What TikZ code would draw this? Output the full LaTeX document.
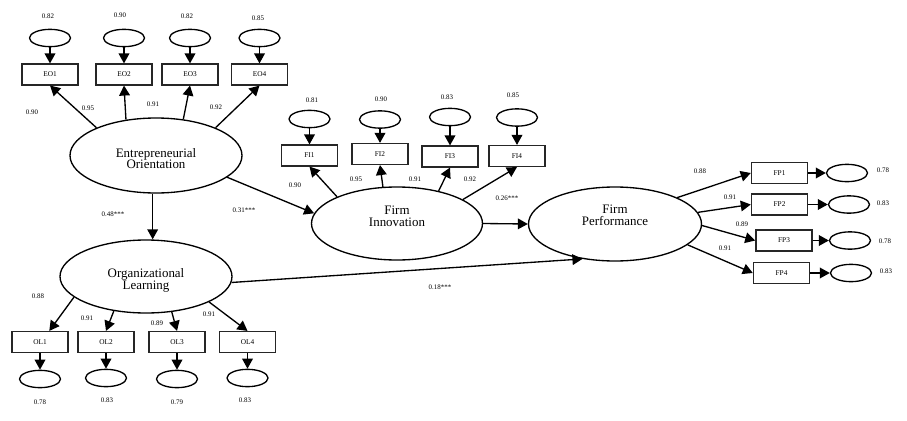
\documentclass[tikz,border=0pt]{standalone}
\usepackage{fontspec}
\setmainfont{Liberation Serif}
\usetikzlibrary{arrows.meta,shapes.geometric}
\begin{document}
\begin{tikzpicture}[x=0.75pt,y=-0.75pt,
  line width=1pt,
  arr/.style={-{Triangle[length=7.5pt,width=8pt]}},
  latent/.style={ellipse,draw,inner sep=0pt},
  obs/.style={rectangle,draw=black!85,line width=1.1pt,minimum width=42pt,minimum height=15.5pt,inner sep=0pt,font=\fontsize{5.5}{6}\selectfont},
  err/.style={ellipse,draw,minimum width=30.75pt,minimum height=13pt,inner sep=0pt},
  num/.style={inner sep=0pt,font=\fontsize{5.2}{6}\selectfont},
  ltxt/.style={inner sep=0pt,align=center,font=\fontsize{9.7}{8.8}\selectfont}]
\useasboundingbox (0,0) rectangle (907,421);
% latent variables
\node[latent,minimum width=129pt,minimum height=56.25pt] (EO) at (156,155.5) {};
\node[ltxt] (EOt) at (156,158.5) {Entrepreneurial\\Orientation};
\node[latent,minimum width=128.25pt,minimum height=54.75pt] (FI) at (397,223.5) {};
\node[ltxt] (FIt) at (397,216) {Firm\\Innovation};
\node[latent,minimum width=129.75pt,minimum height=55.5pt] (FP) at (615,224) {};
\node[ltxt] (FPt) at (615,215.5) {Firm\\Performance};
\node[latent,minimum width=129pt,minimum height=54.75pt] (OL) at (146,276.5) {};
\node[ltxt] (OLt) at (146,280.5) {Organizational\\Learning};
% EO indicators
\node[obs] (EO1) at (50,74.5) {EO1};
\node[obs] (EO2) at (124,74.5) {EO2};
\node[obs] (EO3) at (190,74.5) {EO3};
\node[obs] (EO4) at (259.5,74.5) {EO4};
\node[err] (eEO1) at (50,38) {};
\node[err] (eEO2) at (124,38) {};
\node[err] (eEO3) at (190,38) {};
\node[err] (eEO4) at (259.5,38) {};
\node[num] (vEO1) at (48,16) {0.82};
\node[num] (vEO2) at (120,15) {0.90};
\node[num] (vEO3) at (187,16) {0.82};
\node[num] (vEO4) at (258,18) {0.85};
\node[num] (lEO1) at (32,112) {0.90};
\node[num] (lEO2) at (88,108) {0.95};
\node[num] (lEO3) at (153,104) {0.91};
\node[num] (lEO4) at (216,107) {0.92};
% FI indicators
\node[obs] (FI1) at (309.5,155.5) {FI1};
\node[obs] (FI2) at (380,154) {FI2};
\node[obs] (FI3) at (450,156.5) {FI3};
\node[obs] (FI4) at (517,156) {FI4};
\node[err] (eFI1) at (309.5,119) {};
\node[err] (eFI2) at (380,119.5) {};
\node[err] (eFI3) at (450,117) {};
\node[err] (eFI4) at (517,117.5) {};
\node[num] (vFI1) at (312,100) {0.81};
\node[num] (vFI2) at (381,99) {0.90};
\node[num] (vFI3) at (447,97) {0.83};
\node[num] (vFI4) at (513,95) {0.85};
\node[num] (lFI1) at (295,185) {0.90};
\node[num] (lFI2) at (356,179) {0.95};
\node[num] (lFI3) at (415,179) {0.91};
\node[num] (lFI4) at (470,179) {0.92};
% FP indicators
\node[obs] (FP1) at (779.5,173) {FP1};
\node[obs] (FP2) at (779.5,204.5) {FP2};
\node[obs] (FP3) at (784,240.5) {FP3};
\node[obs] (FP4) at (781.5,273) {FP4};
\node[err] (eFP1) at (847,173) {};
\node[err] (eFP2) at (849,204.5) {};
\node[err] (eFP3) at (850,240.5) {};
\node[err] (eFP4) at (851,273) {};
\node[num] (vFP1) at (883,170) {0.78};
\node[num] (vFP2) at (883,203) {0.83};
\node[num] (vFP3) at (885,241) {0.78};
\node[num] (vFP4) at (886,271) {0.83};
\node[num] (lFP1) at (700,171) {0.88};
\node[num] (lFP2) at (730,197) {0.91};
\node[num] (lFP3) at (742,224) {0.89};
\node[num] (lFP4) at (725,248) {0.91};
% OL indicators
\node[obs] (OL1) at (40,342) {OL1};
\node[obs] (OL2) at (106,342) {OL2};
\node[obs] (OL3) at (177,342) {OL3};
\node[obs] (OL4) at (247.5,342) {OL4};
\node[err] (eOL1) at (40,379) {};
\node[err] (eOL2) at (106,378) {};
\node[err] (eOL3) at (177,379) {};
\node[err] (eOL4) at (247.5,378) {};
\node[num] (vOL1) at (40,402) {0.78};
\node[num] (vOL2) at (107,400) {0.83};
\node[num] (vOL3) at (177,402) {0.79};
\node[num] (vOL4) at (245,400) {0.83};
\node[num] (lOL1) at (38,296) {0.88};
\node[num] (lOL2) at (87,318) {0.91};
\node[num] (lOL3) at (157,323) {0.89};
\node[num] (lOL4) at (209,314) {0.91};
% structural path labels
\node[num] (pEOOL) at (113,214) {0.48***};
\node[num] (pEOFI) at (244,210) {0.31***};
\node[num] (pFIFP) at (507,198) {0.26***};
\node[num] (pOLFP) at (440,287) {0.18***};
% error arrows
\foreach \i in {1,2,3,4} {
  \draw[arr] (eEO\i) -- (EO\i);
  \draw[arr] (eFI\i) -- (FI\i);
  \draw[arr] (FP\i) -- (eFP\i);
  \draw[arr] (OL\i) -- (eOL\i);
}
% loadings
\draw[arr] (EO.155) -- (EO1.south);
\draw[arr] (EO.130) -- (EO2.south);
\draw[arr] (EO.53) -- (EO3.south);
\draw[arr] (EO.25) -- (EO4.south);
\draw[arr] (FI.156) -- (FI1.south);
\draw[arr] (FI.111) -- (FI2.south);
\draw[arr] (FI.38) -- (FI3.south);
\draw[arr] (FI.20) -- (FI4.south);
\draw[arr] (FP.23) -- (FP1.west);
\draw[arr] (FP.8) -- (FP2.west);
\draw[arr] (FP.-1) -- (FP3.west);
\draw[arr] (FP.-16) -- (FP4.west);
\draw[arr] (OL.196) -- (OL1.50);
\draw[arr] (OL.227) -- (OL2.north);
\draw[arr] (OL.-54) -- (OL3.north);
\draw[arr] (OL.-22) -- (OL4.north);
% structural paths
\draw[arr] (EO.265) -- (EO.265 |- OL.north);
\draw[arr] (EO.-17) -- (FI.173);
\draw[arr] (FI.east) -- (FP.west);
\draw[arr] (OL.-4) -- (FP.-133);
\end{tikzpicture}
\end{document}
